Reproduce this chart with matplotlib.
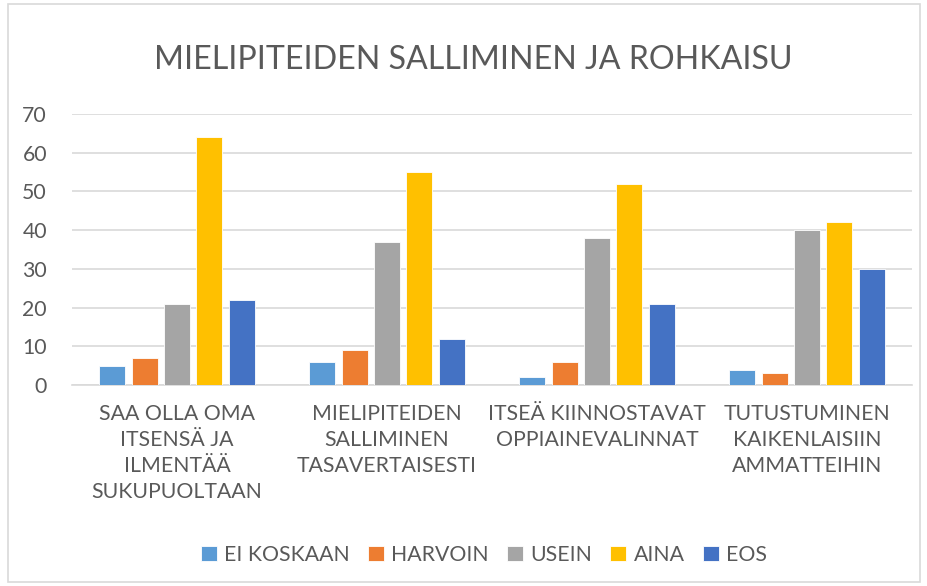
import matplotlib.pyplot as plt
import numpy as np
from matplotlib.patches import FancyBboxPatch

plt.rcParams['font.family'] = ['Lato', 'DejaVu Sans']

categories = ["SAA OLLA OMA\nITSENSÄ JA\nILMENTÄÄ\nSUKUPUOLTAAN",
              "MIELIPITEIDEN\nSALLIMINEN\nTASAVERTAISESTI",
              "ITSEÄ KIINNOSTAVAT\nOPPIAINEVALINNAT",
              "TUTUSTUMINEN\nKAIKENLAISIIN\nAMMATTEIHIN"]
series = ["EI KOSKAAN", "HARVOIN", "USEIN", "AINA", "EOS"]
ei_koskaan = [5, 6, 2, 4]
harvoin = [7, 9, 6, 3]
usein = [21, 37, 38, 40]
aina = [64, 55, 52, 42]
eos = [22, 12, 21, 30]
values = [ei_koskaan, harvoin, usein, aina, eos]
colors = ["#5B9BD5", "#ED7D31", "#A5A5A5", "#FFC000", "#4472C4"]

txt = "#595959"
fig = plt.figure(figsize=(9.28, 5.86), dpi=100)
ax = fig.add_axes([72/928, 1-385/586, 840/928, 271/586])

x = np.arange(len(categories))
step = 0.154
for i, (name, vals, c) in enumerate(zip(series, values, colors)):
    ax.bar(x + (i - 2) * step, vals, width=0.124, color=c, label=name,
           edgecolor="white", linewidth=0.6, zorder=3)

ax.set_xlim(-0.5, 3.5)
ax.set_ylim(0, 70)
ax.set_yticks(range(0, 71, 10))
ax.grid(axis="y", color="#D9D9D9", linewidth=1.2, zorder=0)
for s in ["top", "right", "left"]:
    ax.spines[s].set_visible(False)
ax.spines["bottom"].set_color("#D9D9D9")
ax.spines["bottom"].set_linewidth(1.2)
ax.tick_params(axis="both", length=0, labelsize=15.3, colors=txt)
ax.tick_params(axis="y", pad=18)
ax.tick_params(axis="x", pad=14)
ax.set_xticks(x)
ax.set_xticklabels(categories, linespacing=1.36)

fig.text(473/928, 1-60/586, "MIELIPITEIDEN SALLIMINEN JA ROHKAISU",
         ha="center", va="center", fontsize=23.1, color=txt)

fig.legend(loc="center", bbox_to_anchor=(484/928, 1-555/586), ncol=5,
           frameon=False, fontsize=15.3, handlelength=0.75, handleheight=0.75,
           handletextpad=0.35, columnspacing=0.85, labelcolor=txt)

border = FancyBboxPatch((8/928, 4/586), 912/928, 578/586, boxstyle="square,pad=0",
                        transform=fig.transFigure, fill=False,
                        edgecolor="#D9D9D9", linewidth=1.2)
fig.patches.append(border)

fig.savefig("out.png", dpi=100)
